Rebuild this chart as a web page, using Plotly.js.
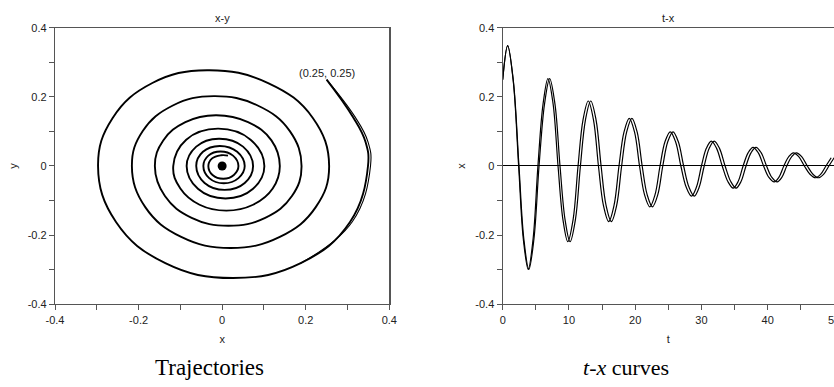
<!DOCTYPE html>
<html>
<head>
<meta charset="utf-8">
<script src="https://cdn.plot.ly/plotly-3.0.1.min.js"></script>
<style>
html,body{margin:0;padding:0;background:#fff;overflow:hidden;}
#chart{width:834px;height:387px;}
</style>
</head>
<body>
<div id="chart"></div>
<script>
// ---- x-y trajectory ----
const spiralX = [0.25,0.313,0.343,0.349,0.306, 0.188,0.026,-0.136,-0.254,-0.297,
  -0.262,-0.167,-0.036,0.11,0.217, 0.256,0.224,0.138,0.02,-0.098,
  -0.184,-0.216,-0.19,-0.118,-0.02, 0.085,0.162,0.19,0.167,0.103,
  0.015,-0.073,-0.137,-0.161,-0.141, -0.088,-0.015,0.062,0.118,0.138,
  0.121,0.074,0.01,-0.054,-0.1, -0.117,-0.086,-0.01,0.068,0.101,
  0.074,0.008,-0.058,-0.085,-0.062, -0.008,0.05,0.074,0.054,0.006,
  -0.042,-0.062,-0.046,-0.006,0.036, 0.054,0.039,0.004,-0.031,-0.045,
  -0.033,-0.004,0.026,0.039,0.028, 0.003,-0.023,-0.033,-0.024,-0.003,
  0.014];
const spiralY = [0.25,0.142,0.07,0,-0.162, -0.281,-0.324,-0.281,-0.162,0,
  0.139,0.24,0.277,0.24,0.139, 0,-0.119,-0.205,-0.237,-0.205,
  -0.119,0,0.101,0.175,0.202, 0.175,0.101,0,-0.087,-0.15,
  -0.173,-0.15,-0.087,0,0.074, 0.127,0.147,0.127,0.074,0,
  -0.065,-0.112,-0.129,-0.112,-0.065, 0,0.076,0.108,0.076,0,
  -0.066,-0.094,-0.066,0,0.056, 0.079,0.056,0,-0.049,-0.069,
  -0.049,0,0.041,0.058,0.041, 0,-0.035,-0.05,-0.035,0,
  0.03,0.042,0.03,0,-0.026, -0.037,-0.026,0,0.022,0.031,
  0.03];
// second trajectory: only distinguishable on the first arc
const arc2X = [0.25,0.318,0.349,0.355,0.311,0.188];
const arc2Y = [0.25,0.142,0.07,0,-0.162,-0.281];
const startLabel = "(0.25, 0.25)";
const startPt = [0.25, 0.269];
const eqX = [0], eqY = [0];

// ---- t-x curves ----
const tMid = [0,0.75,1.6,2.43,3.15, 3.9,4.65,5.4,6.2,6.96,
  7.75,8.5,9.25,10.0,10.8, 11.55,12.3,13.1,13.9,14.65,
  15.4,16.2,17.0,17.75,18.5, 19.3,20.1,20.85,21.6,22.4,
  23.2,23.95,24.7,25.5,26.3, 27.1,27.9,28.7,29.45,30.2,
  30.95,31.7,32.5,33.35,34.2, 35.0,35.75,36.5,37.25,38.0,
  38.8,39.6,40.4,41.2,41.9, 42.65,43.4,44.1,44.9,45.75,
  46.6,47.4,48.2,49.0,49.8];
const xVals = [0.25,0.348,0.246,0,-0.211, -0.299,-0.211,0,0.179,0.253,
  0.179,0,-0.155,-0.219,-0.155, 0,0.133,0.188,0.133,0,
  -0.114,-0.161,-0.114,0,0.098, 0.138,0.098,0,-0.083,-0.118,
  -0.083,0,0.07,0.099,0.07, 0,-0.061,-0.087,-0.061,0,
  0.051,0.072,0.051,0,-0.045, -0.064,-0.045,0,0.038,0.054,
  0.038,0,-0.033,-0.046,-0.033, 0,0.027,0.038,0.027,0,
  -0.024,-0.034,-0.024,0,0.024];
// time gap between the two nearly identical curves
const tGap = [0,0,0.02,0.05,0.08, 0.1,0.13,0.17,0.22,0.26, 0.28,0.3,0.32,0.34,0.35,
  0.36,0.37,0.38,0.39,0.4, 0.4,0.4,0.4,0.4,0.4, 0.4,0.4,0.4,0.4,0.4,
  0.42,0.42,0.42,0.42,0.42, 0.42,0.42,0.42,0.42,0.42, 0.44,0.44,0.44,0.44,0.44,
  0.44,0.44,0.44,0.44,0.44, 0.45,0.45,0.45,0.45,0.45, 0.45,0.45,0.45,0.45,0.45,
  0.45,0.45,0.45,0.45,0.45];
const tA = tMid.map((t,i)=>t - tGap[i]/2);
const tB = tMid.map((t,i)=>t + tGap[i]/2);

// tick labels
const xyTicks = [-0.4,-0.3,-0.2,-0.1,0,0.1,0.2,0.3,0.4];
const xyTickText = ['-0.4','','-0.2','','0','','0.2','','0.4'];
const tTicks = [0,5,10,15,20,25,30,35,40,45,50];
const tTickText = ['0','','10','','20','','30','','40','','50'];

const FONT = 'Arial, "Liberation Sans", sans-serif';
const SERIF = '"Times New Roman", "Liberation Serif", serif';
const W = 834;

const traces = [
  {x: spiralX, y: spiralY, mode:'lines', line:{color:'#000', width:1.9, shape:'spline', smoothing:1.2}, xaxis:'x', yaxis:'y', hoverinfo:'skip'},
  {x: arc2X, y: arc2Y, mode:'lines', line:{color:'#000', width:1.1, shape:'spline', smoothing:1.2}, xaxis:'x', yaxis:'y', hoverinfo:'skip'},
  {x: eqX, y: eqY, mode:'markers', marker:{color:'#000', size:9}, xaxis:'x', yaxis:'y'},
  {x: tA, y: xVals, mode:'lines', line:{color:'#000', width:1.2, shape:'spline', smoothing:1}, xaxis:'x2', yaxis:'y2', hoverinfo:'skip'},
  {x: tB, y: xVals, mode:'lines', line:{color:'#000', width:1.2, shape:'spline', smoothing:1}, xaxis:'x2', yaxis:'y2', hoverinfo:'skip'}
];

const axisBase = {
  showgrid:false, zeroline:false, showline:true, linecolor:'#555', linewidth:1.2, mirror:true,
  ticks:'outside', ticklen:5, tickwidth:1, tickcolor:'#555',
  tickfont:{family:FONT, size:11, color:'#222'}, tickmode:'array', fixedrange:true
};

const layout = {
  width:W, height:387,
  margin:{l:0,r:0,t:0,b:0},
  paper_bgcolor:'#fff', plot_bgcolor:'#fff',
  showlegend:false,
  font:{family:FONT, size:11, color:'#222'},
  xaxis: Object.assign({}, axisBase, {domain:[55/W,389.3/W], range:[-0.4,0.4], tickvals:xyTicks, ticktext:xyTickText,
    title:{text:'x', font:{family:FONT,size:11,color:'#222'}, standoff:10}, anchor:'y'}),
  yaxis: Object.assign({}, axisBase, {domain:[0.2137,0.9284], range:[-0.4,0.4], tickvals:xyTicks, ticktext:xyTickText,
    title:{text:'y', font:{family:FONT,size:11,color:'#222'}, standoff:7}, anchor:'x'}),
  xaxis2: Object.assign({}, axisBase, {domain:[502.7/W,1.0], range:[0,50], tickvals:tTicks, ticktext:tTickText,
    ticklabeloverflow:'allow',
    title:{text:'t', font:{family:FONT,size:11,color:'#222'}, standoff:10}, anchor:'y2'}),
  yaxis2: Object.assign({}, axisBase, {domain:[0.2137,0.9284], range:[-0.4,0.4], tickvals:xyTicks, ticktext:xyTickText,
    zeroline:true, zerolinecolor:'#000', zerolinewidth:1,
    title:{text:'x', font:{family:FONT,size:11,color:'#222'}, standoff:7}, anchor:'x2'}),
  annotations:[
    {text:'x-y', xref:'x domain', yref:'y domain', x:0.5, y:1, yanchor:'bottom', yshift:2, showarrow:false, font:{family:FONT,size:11,color:'#222'}},
    {text:'t-x', xref:'x2 domain', yref:'y2 domain', x:0.5, y:1, yanchor:'bottom', yshift:2, showarrow:false, font:{family:FONT,size:11,color:'#222'}},
    {text:startLabel, xref:'x', yref:'y', x:startPt[0], y:startPt[1], showarrow:false, font:{family:FONT,size:11,color:'#222'}},
    {text:'Trajectories', xref:'paper', yref:'paper', x:209/W, y:1-367/387, xanchor:'center', yanchor:'middle', showarrow:false, font:{family:SERIF,size:23,color:'#000'}},
    {text:'<i>t</i>-<i>x</i> curves', xref:'paper', yref:'paper', x:626/W, y:1-367/387, xanchor:'center', yanchor:'middle', showarrow:false, font:{family:SERIF,size:22,color:'#000'}}
  ]
};

Plotly.newPlot('chart', traces, layout, {displayModeBar:false, staticPlot:true});
</script>
</body>
</html>
